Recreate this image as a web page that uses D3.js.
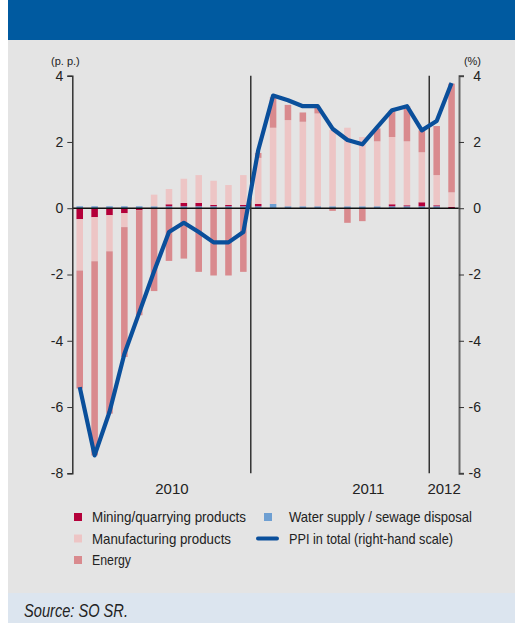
<!DOCTYPE html>
<html>
<head>
<meta charset="utf-8">
<script src="https://cdn.jsdelivr.net/npm/d3@7"></script>
<style>
  body { margin: 0; background: #fff; }
  svg { display: block; }
  text { font-family: "Liberation Sans", Arial, sans-serif; fill: #222; }
</style>
</head>
<body>
<svg id="chart" width="515" height="623"></svg>
<script>
// monthly, Jan 2010 .. Feb 2012
var months = ["2010-01","2010-02","2010-03","2010-04","2010-05","2010-06","2010-07","2010-08","2010-09","2010-10","2010-11","2010-12",
              "2011-01","2011-02","2011-03","2011-04","2011-05","2011-06","2011-07","2011-08","2011-09","2011-10","2011-11","2011-12",
              "2012-01","2012-02"];

// contributions (p. p.)
var water = [0.06,0.06,0.06,0.06,0.06,0.06,0.06,0.06,0.06,0.06,0.06,0.06,
             0.06,0.13,0.06,0.06,0.06,0.06,0.06,0.06,0.06,0.06,0.06,0.06,
             0.06,0];
var mining = [-0.33,-0.27,-0.21,-0.15,-0.06,0,0.06,0.1,0.1,0.04,0.04,0.04,
              0.07,0,0,0,0,0,0,0,0,0.06,0.03,0.12,
              0.03,0.04];
var manufacturing = [-1.55,-1.33,-1.09,-0.42,0,0.35,0.46,0.73,0.84,0.73,0.6,0.9,
                     1.39,2.3,2.6,2.55,2.8,2.3,2.37,2.09,1.96,2.03,1.93,1.51,
                     0.91,0.44];
var energy = [-3.56,-5.86,-4.9,-3.92,-3.17,-2.5,-1.59,-1.52,-1.92,-2.03,-2.03,-1.92,
              0.15,0.92,0.46,0.28,0.2,-0.08,-0.44,-0.39,0.39,0.8,1.06,0.66,
              1.48,3.28];
// PPI in total (%), right-hand scale
var ppi = [-5.4,-7.46,-6.15,-4.4,-3.15,-1.9,-0.72,-0.44,-0.72,-1.03,-1.03,-0.72,
           1.75,3.4,3.26,3.08,3.08,2.4,2.06,1.93,2.45,2.96,3.08,2.35,
           2.63,3.78];

var yTicks = [4, 2, 0, -2, -4, -6, -8];
var years = ["2010", "2011", "2012"];
var yearPos = [6.2, 19.4, 24.5];      // label centre, in months
var yearBreaks = [11.5, 23.5];        // separators between years

var keys = ["water", "mining", "manufacturing", "energy"];
var colors = {water: "#6e9fd2", mining: "#b4003a", manufacturing: "#edc5c5", energy: "#d98a8e"};
var legendNames = {mining: "Mining/quarrying products", manufacturing: "Manufacturing products",
                   energy: "Energy", water: "Water supply / sewage disposal",
                   ppi: "PPI in total (right-hand scale)"};

var rows = months.map(function(m, i){
    return {month: m, water: water[i], mining: mining[i], manufacturing: manufacturing[i], energy: energy[i]};
});

var svg = d3.select("#chart");

// frame
svg.append("rect").attr("x", 8).attr("y", 0).attr("width", 507).attr("height", 40).attr("fill", "#005aa0");
svg.append("rect").attr("x", 8).attr("y", 40).attr("width", 507).attr("height", 553).attr("fill", "#e4e4e4");
svg.append("rect").attr("x", 8).attr("y", 593).attr("width", 507).attr("height", 30).attr("fill", "#dce5ef");

var plotLeft = 72.3, plotRight = 459, plotTop = 75.7, plotBottom = 473.3;

var x = d3.scaleBand().domain(months).range([plotLeft, plotRight]).paddingInner(0.56).paddingOuter(0.28);
var y = d3.scaleLinear().domain([-8, 4]).range([plotBottom, plotTop]);
var y2 = d3.scaleLinear().domain([-8, 4]).range([plotBottom, plotTop]);
var xi = d3.scaleLinear().domain([-0.5, months.length - 0.5]).range([plotLeft, plotRight]);

var series = d3.stack().keys(keys).offset(d3.stackOffsetDiverging)(rows);

svg.append("g").selectAll("g").data(series).join("g")
    .attr("fill", function(d){ return colors[d.key]; })
    .selectAll("rect").data(function(d){ return d; }).join("rect")
    .attr("x", function(d){ return x(d.data.month); })
    .attr("width", x.bandwidth())
    .attr("y", function(d){ return y(Math.max(d[0], d[1])); })
    .attr("height", function(d){ return Math.abs(y(d[0]) - y(d[1])); });

// zero line
svg.append("line").attr("x1", plotLeft).attr("x2", plotRight).attr("y1", y(0)).attr("y2", y(0))
    .attr("stroke", "#111").attr("stroke-width", 1.5);

// year separators
svg.append("g").selectAll("line").data(yearBreaks).join("line")
    .attr("x1", function(d){ return xi(d); }).attr("x2", function(d){ return xi(d); })
    .attr("y1", plotTop).attr("y2", plotBottom)
    .attr("stroke", "#333").attr("stroke-width", 1.5);

// PPI line
svg.append("path").datum(ppi)
    .attr("fill", "none").attr("stroke", "#0a4f9b").attr("stroke-width", 4.2)
    .attr("stroke-linejoin", "round")
    .attr("d", d3.line()
        .x(function(d, i){ return x(months[i]) + x.bandwidth() / 2; })
        .y(function(d){ return y2(d); }));

// axes (plain hyphen for negatives, as in the original)
function fmt(d){ return String(d); }
var yAxisL = svg.append("g").attr("transform", "translate(" + plotLeft + ",0)")
    .call(d3.axisLeft(y).tickValues(yTicks).tickSize(5).tickPadding(4).tickFormat(fmt));
var yAxisR = svg.append("g").attr("transform", "translate(" + plotRight + ",0)")
    .call(d3.axisRight(y2).tickValues(yTicks).tickSize(5).tickPadding(4).tickFormat(fmt));
yAxisL.select(".domain").attr("stroke", "#333").attr("stroke-width", 1.5);
yAxisR.select(".domain").attr("stroke", "#666").attr("stroke-width", 2);
svg.selectAll(".tick line").attr("stroke", "#333");
yAxisL.selectAll("text").attr("font-size", 14).attr("font-family", null).attr("fill", "#222").attr("x", -9);
yAxisR.selectAll("text").attr("font-size", 14).attr("font-family", null).attr("fill", "#222")
    .attr("text-anchor", "end").attr("x", 22);

svg.append("text").attr("x", 51).attr("y", 65).attr("font-size", 11).text("(p. p.)");
svg.append("text").attr("x", 481).attr("y", 65).attr("font-size", 11).attr("text-anchor", "end").text("(%)");

// year labels
svg.append("g").selectAll("text").data(years).join("text")
    .attr("x", function(d, i){ return xi(yearPos[i]); })
    .attr("y", 494).attr("text-anchor", "middle").attr("font-size", 15)
    .text(function(d){ return d; });

// legend
var legendItems = [
    {key: "mining", col: 0, row: 0, w: 154},
    {key: "manufacturing", col: 0, row: 1, w: 139},
    {key: "energy", col: 0, row: 2, w: 39},
    {key: "water", col: 1, row: 0, w: 183},
    {key: "ppi", col: 1, row: 1, w: 164}
];
var lg = svg.append("g").selectAll("g").data(legendItems).join("g")
    .attr("transform", function(d){ return "translate(" + (d.col ? 257 : 74) + "," + (517 + d.row * 21.5) + ")"; });
lg.filter(function(d){ return d.key !== "ppi"; }).append("rect")
    .attr("x", function(d){ return d.col ? 7 : 0; }).attr("y", -4).attr("width", 8).attr("height", 8)
    .attr("fill", function(d){ return colors[d.key]; });
lg.filter(function(d){ return d.key === "ppi"; }).append("line")
    .attr("x1", 1).attr("x2", 20).attr("y1", 0).attr("y2", 0)
    .attr("stroke", "#0a4f9b").attr("stroke-width", 4).attr("stroke-linecap", "round");
lg.append("text")
    .attr("x", function(d){ return d.col ? 32 : 18; }).attr("y", 5).attr("font-size", 15)
    .attr("textLength", function(d){ return d.w; }).attr("lengthAdjust", "spacingAndGlyphs")
    .text(function(d){ return legendNames[d.key]; });

svg.append("text").attr("x", 24).attr("y", 617)
    .attr("font-size", 18).attr("font-style", "italic").attr("fill", "#333")
    .attr("textLength", 104).attr("lengthAdjust", "spacingAndGlyphs").text("Source: SO SR.");
</script>
</body>
</html>
